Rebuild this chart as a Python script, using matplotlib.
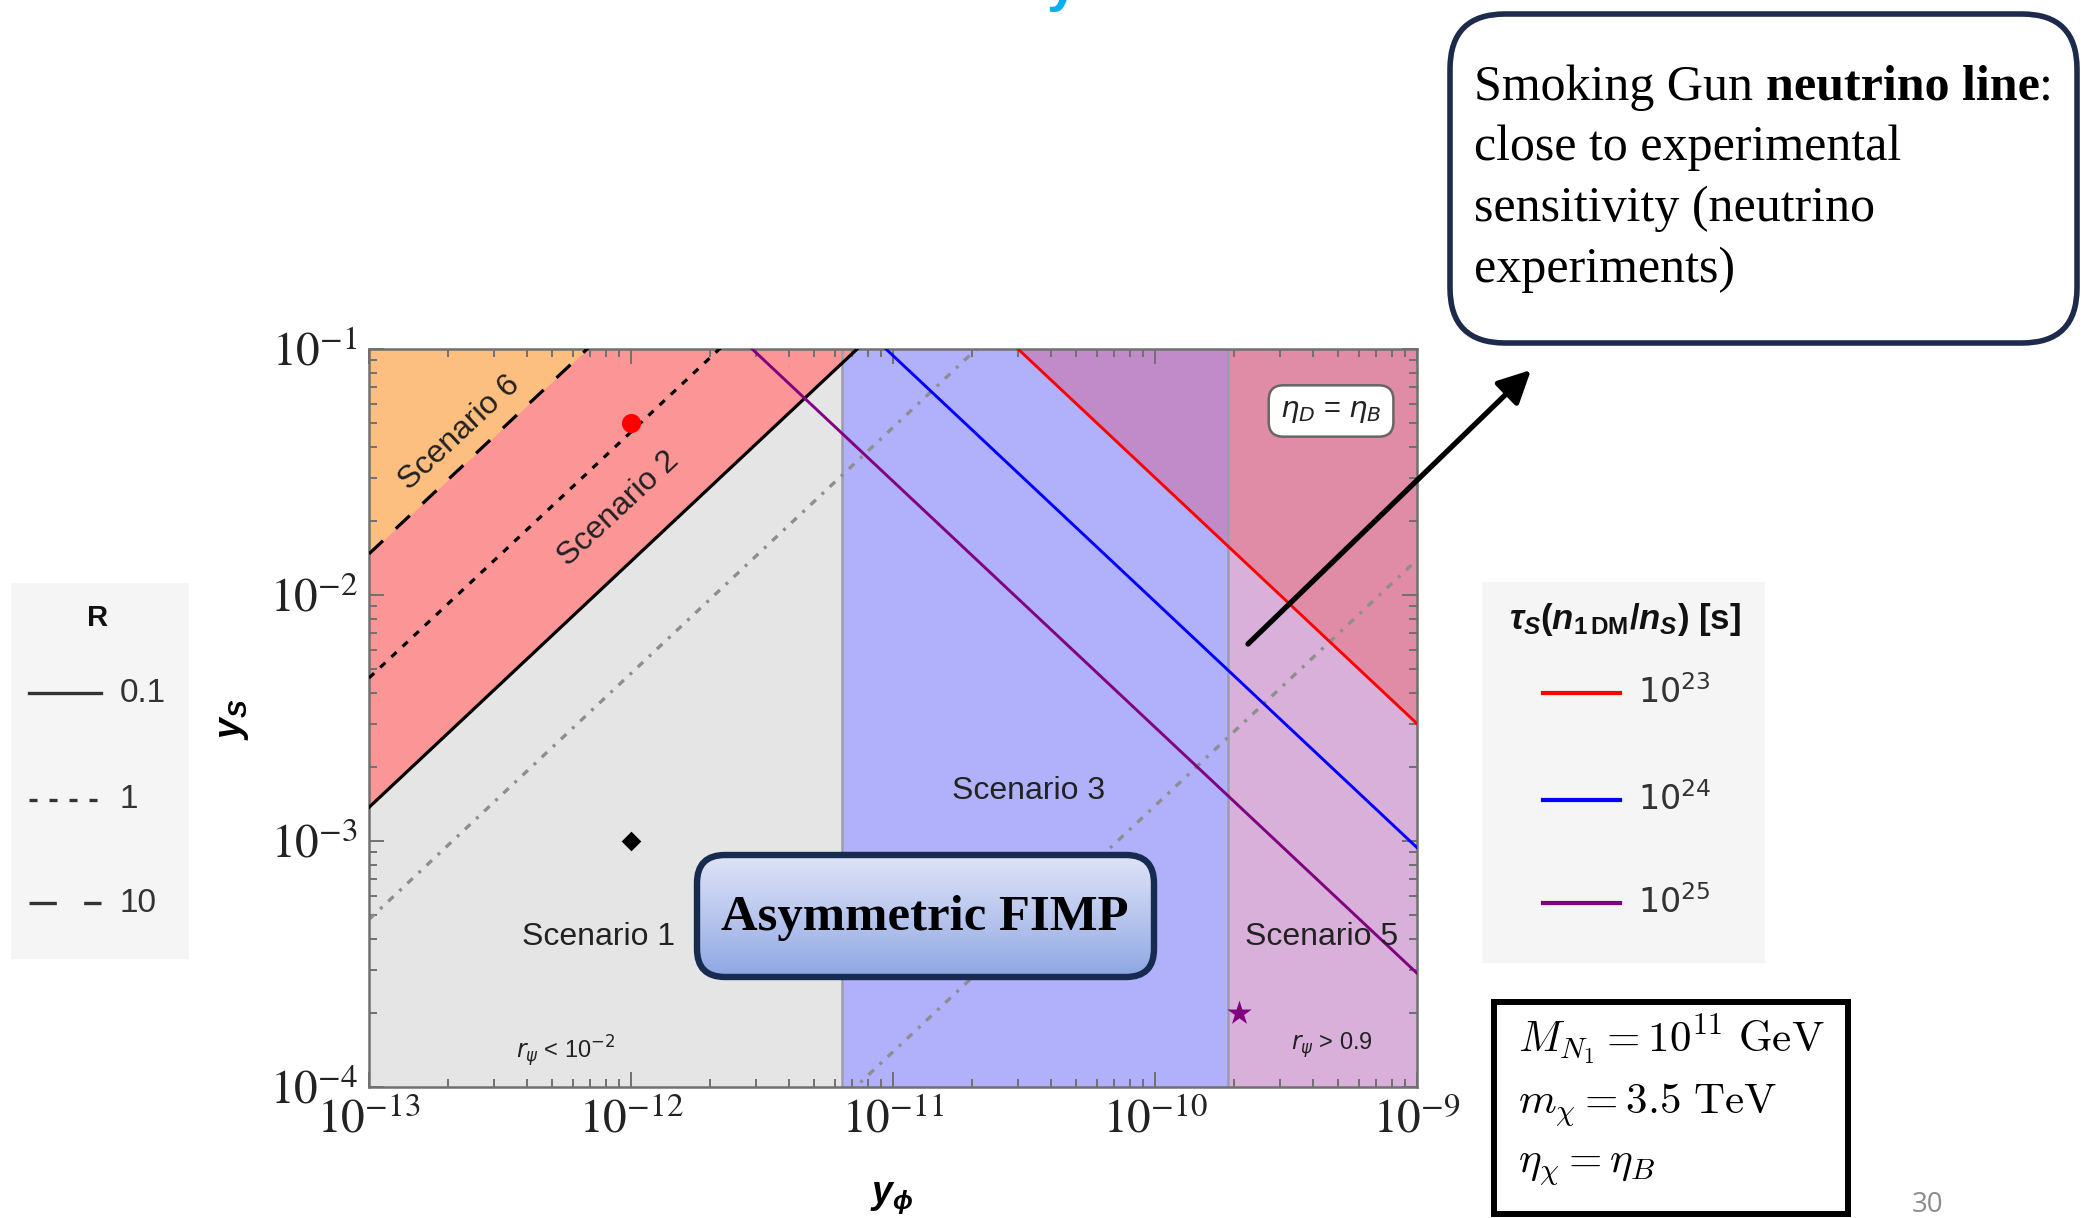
import numpy as np
import matplotlib
matplotlib.use("Agg")
import matplotlib.pyplot as plt
from matplotlib.patches import FancyBboxPatch, Rectangle
from matplotlib.colors import LinearSegmentedColormap
from matplotlib.ticker import LogLocator, NullFormatter

plt.rcParams.update({
    "font.family": "Liberation Sans",
    "mathtext.fontset": "stix",
    "mathtext.rm": "Liberation Sans:bold",
    "mathtext.it": "Liberation Sans:italic:bold",
    "mathtext.bf": "Liberation Sans:bold",
})

W, H, DPI = 2088, 1218, 100

# ---- parameter space ----
yphi_range = [1e-13, 1e-9]
ys_range = [1e-4, 1e-1]
x_ticks = [1e-13, 1e-12, 1e-11, 1e-10, 1e-9]
x_tick_labels = [r"$10^{-13}$", r"$10^{-12}$", r"$10^{-11}$", r"$10^{-10}$", r"$10^{-9}$"]
y_ticks = [1e-4, 1e-3, 1e-2, 1e-1]
y_tick_labels = [r"$10^{-4}$", r"$10^{-3}$", r"$10^{-2}$", r"$10^{-1}$"]

# y_phi boundaries: scenario 1 | scenario 3 | scenario 5
scenario_edges = [6.4e-12, 1.9e-10]

# R contours: y_S = k * y_phi
R_labels = ["0.1", "1", "10"]
R_k = [1.37e10, 4.6e10, 1.47e11]

# lifetime contours: y_S = k / y_phi
tau_labels = [r"$10^{23}$", r"$10^{24}$", r"$10^{25}$"]
tau_k = [3.0e-12, 9.4e-13, 2.9e-13]
tau_colors = ["#ff0000", "#0000ff", "#800080"]

# r_psi guide lines: y_S = k * y_phi
rpsi_k = [4.8e9, 1.39e7]

# benchmark points
bench_yphi = [1e-12, 1e-12, 2.1e-10]
bench_ys = [5e-2, 1e-3, 2e-4]

C_GRAY = "#e5e5e5"
C_BLUE = "#b1b1fb"
C_PINK = "#d9b0d9"
C_RED = "#fc9696"
C_ORANGE = "#fdbf80"
C_PURPLE_TOP = "#c08bc8"
C_PINKRED = "#e08ca6"

fig = plt.figure(figsize=(W / DPI, H / DPI), dpi=DPI)
ax = fig.add_axes([369 / W, 1 - 1087 / H, 1048 / W, 738 / H])
ax.set_xscale("log")
ax.set_yscale("log")
ax.set_xlim(yphi_range)
ax.set_ylim(ys_range)

xs = np.array(yphi_range)
e1, e2 = scenario_edges
top = 1e3

# scenario regions
ax.axvspan(yphi_range[0], e1, color=C_GRAY, lw=0, zorder=0)
ax.axvspan(e1, e2, color=C_BLUE, lw=0, zorder=0)
ax.axvspan(e2, yphi_range[1], color=C_PINK, lw=0, zorder=0)
ax.fill_between(xs, R_k[0] * xs, top, color=C_RED, lw=0, zorder=1)
ax.fill_between(xs, R_k[2] * xs, top, color=C_ORANGE, lw=0, zorder=1.1)
xa = np.array([yphi_range[0], e2])
ax.fill_between(xa, tau_k[0] / xa, top, color=C_PURPLE_TOP, lw=0, zorder=1)
xb = np.array([e2, yphi_range[1]])
ax.fill_between(xb, tau_k[0] / xb, top, color=C_PINKRED, lw=0, zorder=1)
for e in scenario_edges:
    ax.axvline(e, color="#9c9cb0", lw=1.8, zorder=1.5)

# guide and contour lines
for k in rpsi_k:
    ax.plot(xs, k * xs, color="#8e8e8e", lw=2.4, ls=(0, (2.2, 2.4, 0.9, 2.4)), zorder=2)
r_styles = ["-", (0, (2.2, 2.6)), (0, (6, 5.5))]
for k, ls in zip(R_k, r_styles):
    ax.plot(xs, k * xs, color="black", lw=2.3, ls=ls, zorder=3)
for k, c in zip(tau_k, tau_colors):
    ax.plot(xs, k / xs, color=c, lw=2.1, zorder=3)

# benchmark points
ax.scatter(bench_yphi[0], bench_ys[0], marker="o", s=190, color="#ff0000", lw=0, zorder=4)
ax.scatter(bench_yphi[1], bench_ys[1], marker="D", s=100, color="black", lw=0, zorder=4)
ax.scatter(bench_yphi[2], bench_ys[2], marker="*", s=340, color="#800080", lw=0, zorder=4)

# frame and ticks
ax.set_xticks(x_ticks)
ax.set_xticklabels(x_tick_labels)
ax.set_yticks(y_ticks)
ax.set_yticklabels(y_tick_labels)
for axis in (ax.xaxis, ax.yaxis):
    axis.set_minor_locator(LogLocator(base=10, subs=np.arange(2, 10), numticks=30))
    axis.set_minor_formatter(NullFormatter())
ax.tick_params(which="both", direction="in", top=True, right=True, color="#707070",
               width=1.4, labelsize=34, labelcolor="#222222", pad=8)
ax.tick_params(which="major", length=11)
ax.tick_params(which="minor", length=6)
for s in ax.spines.values():
    s.set_color("#707070")
    s.set_linewidth(1.8)

# region labels
scen_text = [
    ("Scenario 6", 0.086, 0.886, 43),
    ("Scenario 2", 0.2385, 0.783, 43),
    ("Scenario 1", 0.2195, 0.203, 0),
    ("Scenario 3", 0.629, 0.401, 0),
    ("Scenario 5", 0.909, 0.203, 0),
]
for txt, fx, fy, rot in scen_text:
    ax.text(fx, fy, txt, transform=ax.transAxes, ha="center", va="center",
            rotation=rot, rotation_mode="anchor", fontsize=23, color="#222222", zorder=5)
ax.text(0.188, 0.049, r"$r_\psi$ < 10$^{-2}$", transform=ax.transAxes, ha="center",
        va="center", fontsize=17, color="#222222", math_fontfamily="dejavusans", zorder=5)
ax.text(0.919, 0.057, r"$r_\psi$ > 0.9", transform=ax.transAxes, ha="center",
        va="center", fontsize=17, color="#222222", math_fontfamily="dejavusans", zorder=5)
ax.text(0.918, 0.916, r"$\eta_D$ = $\eta_B$", transform=ax.transAxes, ha="center",
        va="center", fontsize=21, color="#222222", math_fontfamily="dejavusans", zorder=5,
        bbox=dict(boxstyle="round,pad=0.4,rounding_size=0.5", fc="white", ec="#666666", lw=1.8))

# axis labels
fig.text(233 / W, 1 - 719 / H, r"$y_S$", rotation=90, ha="center", va="center",
         fontsize=27, math_fontfamily="custom")
fig.text(892 / W, 1 - 1198 / H, r"$y_\phi$", ha="center", va="center",
         fontsize=27, math_fontfamily="custom")

# ---- overlay in pixel coordinates ----
ov = fig.add_axes([0, 0, 1, 1])
ov.set_xlim(0, W)
ov.set_ylim(H, 0)
ov.axis("off")
ov.set_zorder(10)
ov.patch.set_alpha(0)

# title fragment above the slide edge
fig.text(1062 / W, 1.0, "y", ha="center", va="baseline", fontsize=40,
         fontweight="bold", color="#00b0f0")

# R legend
ov.add_patch(Rectangle((11, 583), 178, 376, fc="#f5f5f5", ec="none"))
ov.text(98, 618, "R", ha="center", va="center", fontsize=21, fontweight="bold", color="#111111")
leg_y = [693, 800, 903]
leg_styles = ["-", (0, (2.4, 3.6)), (0, (8.2, 8.2))]
for yy, ls, lab in zip(leg_y, leg_styles, R_labels):
    ov.plot([29, 101], [yy, yy], color="#333333", lw=2.4, ls=ls)
    ov.text(120, yy, lab, ha="left", va="center", fontsize=24, color="#333333")

# lifetime legend
ov.add_patch(Rectangle((1482, 582), 283, 381, fc="#f5f5f5", ec="none"))
ov.text(1625, 620, r"$\tau_S(n_{1\,\mathrm{DM}}/n_S)$ [s]", ha="center", va="center",
        fontsize=25, fontweight="bold", math_fontfamily="custom", color="#111111")
for yy, c, lab in zip(leg_y, tau_colors, tau_labels):
    ov.plot([1543, 1620], [yy, yy], color=c, lw=3)
    ov.text(1638, yy, lab, ha="left", va="center", fontsize=24, color="#333333",
            math_fontfamily="dejavusans")

# callout box
ov.add_patch(FancyBboxPatch((1450, 14), 627, 329, boxstyle="round,pad=0,rounding_size=55",
                            lw=4, ec="#1c2b4b", fc="white"))
fig.canvas.draw()
renderer = fig.canvas.get_renderer()
serif = "Liberation Serif"
fs = 36
t1 = ov.text(1474, 88, "Smoking Gun", ha="left", va="center", fontsize=fs, family=serif)
bb = t1.get_window_extent(renderer)
x_end = ov.transData.inverted().transform((bb.x1, bb.y0))[0]
space = 0.25 * fs * DPI / 72
t2 = ov.text(x_end + space, 88, "neutrino line", ha="left", va="center", fontsize=fs,
             family=serif, fontweight="bold")
bb2 = t2.get_window_extent(renderer)
x_end2 = ov.transData.inverted().transform((bb2.x1, bb2.y0))[0]
ov.text(x_end2, 88, ":", ha="left", va="center", fontsize=fs, family=serif)
for yy, line in zip([148, 209, 270], ["close to experimental", "sensitivity (neutrino",
                                      "experiments)"]):
    ov.text(1474, yy, line, ha="left", va="center", fontsize=fs, family=serif)

# arrow
ov.annotate("", xy=(1531, 370), xytext=(1248, 644),
            arrowprops=dict(arrowstyle="-|>,head_length=0.9,head_width=0.45", lw=3.8,
                            color="black", mutation_scale=22, shrinkA=0, shrinkB=0))

# "Asymmetric FIMP" badge with gradient fill
badge = FancyBboxPatch((697, 855), 457, 122, boxstyle="round,pad=0,rounding_size=28",
                       lw=4.6, ec="#172a50", fc="none", zorder=3)
ov.add_patch(badge)
grad_cmap = LinearSegmentedColormap.from_list("badge", ["#dfe3f6", "#b9c6ee", "#8da7e3"])
img = ov.imshow(np.linspace(0, 1, 256).reshape(-1, 1), cmap=grad_cmap, aspect="auto",
                extent=(697, 1154, 977, 855), zorder=2, interpolation="bilinear")
img.set_clip_path(badge)
ov.text(925, 918, "Asymmetric FIMP", ha="center", va="center", fontsize=36.5,
        family=serif, fontweight="bold", zorder=4)

# parameter box
ov.add_patch(Rectangle((1494, 1002), 354, 212, lw=4.3, ec="black", fc="white"))
params = [r"$M_{N_1} = 10^{11}\ \mathrm{GeV}$", r"$m_\chi = 3.5\ \mathrm{TeV}$",
          r"$\eta_\chi = \eta_B$"]
for yy, p in zip([1040, 1105, 1168], params):
    ov.text(1518, yy, p, ha="left", va="center", fontsize=31, math_fontfamily="cm")

# slide number
ov.text(1928, 1205, "30", ha="center", va="center", fontsize=20, color="#8c8c8c",
        family="Open Sans")

ov.set_xlim(0, W)
ov.set_ylim(H, 0)
fig.savefig("out.png", dpi=DPI)
